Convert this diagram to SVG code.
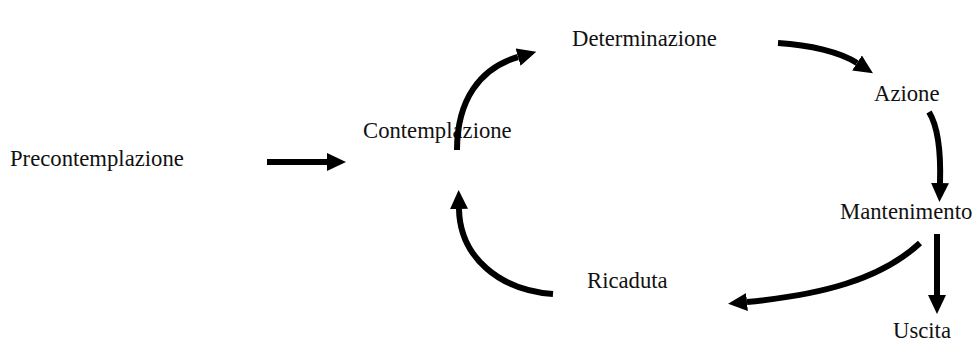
<svg xmlns="http://www.w3.org/2000/svg" width="973" height="345" viewBox="0 0 973 345">
<style>
text{font-family:"Liberation Serif","Times New Roman",serif;font-size:22.7px;fill:#111}
.c{fill:none;stroke:#000;stroke-width:6;marker-end:url(#ah)}
</style>
<defs>
<marker id="ah" markerUnits="userSpaceOnUse" markerWidth="20" markerHeight="18" refX="0" refY="9" orient="auto" viewBox="0 0 20 18">
<path d="M0,0 L19,9 L0,18 z" fill="#000"/>
</marker>
</defs>
<rect width="973" height="345" fill="#fff"/>
<g id="precontemplazione"><text x="10" y="166">Precontemplazione</text></g>
<g id="contemplazione"><text x="363" y="138">Contemplazione</text></g>
<g id="determinazione"><text x="572" y="46">Determinazione</text></g>
<g id="azione"><text x="874" y="101">Azione</text></g>
<g id="mantenimento"><text x="840" y="219">Mantenimento</text></g>
<g id="ricaduta"><text x="587" y="288">Ricaduta</text></g>
<g id="uscita"><text x="893" y="338">Uscita</text></g>
<g id="connectors">
<path class="c" d="M267,162 L327,162"/>
<path class="c" d="M457,150 C457,100 480,68 518,57"/>
<path class="c" d="M778,43 C810,45 840,52 857,63"/>
<path class="c" d="M929,112 C937,125 941,150 940,183"/>
<path class="c" d="M937,234 L937,295"/>
<path class="c" d="M920,243 C880,280 820,295 747,302"/>
<path class="c" d="M553,294 C500,290 460,258 459,209"/>
</g>
</svg>
